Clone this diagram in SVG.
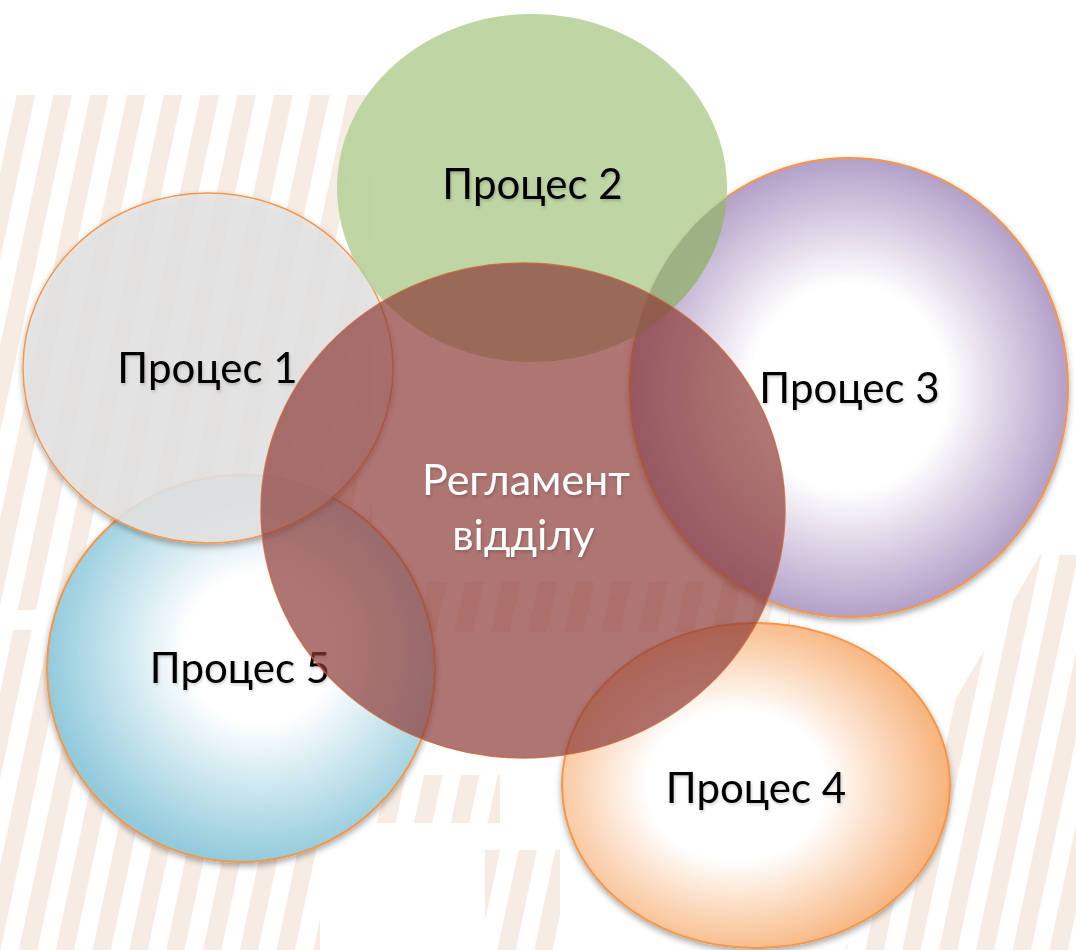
<svg xmlns="http://www.w3.org/2000/svg" width="1076" height="950" viewBox="0 0 1076 950">
  <style>
    .label { font-family: Lato, "Liberation Sans", "Noto Sans", sans-serif; font-size: 42px; text-anchor: middle; }
    .center-label { font-size: 43px; }
    .dark { fill: #000000; }
    .light { fill: #ffffff; }
    .rim { stroke: #f79646; stroke-width: 2; }
    .stripe-area { fill: url(#stripes); opacity: 0.6; }
  </style>
  <defs>
    <pattern id="stripes" width="36" height="40" patternUnits="userSpaceOnUse" patternTransform="rotate(12)">
      <rect x="0" y="0" width="18" height="40" fill="#f2e0d2"/>
    </pattern>
    <radialGradient id="gradPurple" cx="0.5" cy="0.5" r="0.5">
      <stop offset="0" stop-color="#ffffff"/>
      <stop offset="0.45" stop-color="#ffffff"/>
      <stop offset="1" stop-color="#b3a0c8"/>
    </radialGradient>
    <radialGradient id="gradOrange" cx="0.45" cy="0.5" r="0.55">
      <stop offset="0" stop-color="#ffffff"/>
      <stop offset="0.42" stop-color="#ffffff"/>
      <stop offset="1" stop-color="#f7b27a"/>
    </radialGradient>
    <radialGradient id="gradBlue" cx="0.55" cy="0.45" r="0.55">
      <stop offset="0" stop-color="#ffffff"/>
      <stop offset="0.35" stop-color="#ffffff"/>
      <stop offset="1" stop-color="#93cbdc"/>
    </radialGradient>
    <filter id="shadow" x="-10%" y="-10%" width="120%" height="125%">
      <feDropShadow dx="0" dy="3" stdDeviation="3" flood-color="#000000" flood-opacity="0.35"/>
    </filter>
    <filter id="textShadow" x="-10%" y="-20%" width="120%" height="150%">
      <feDropShadow dx="1" dy="2" stdDeviation="1.5" flood-color="#000000" flood-opacity="0.18"/>
    </filter>
    <clipPath id="greenClip">
      <ellipse cx="532" cy="188" rx="195" ry="174"/>
    </clipPath>
  </defs>

  <!-- page background with faint diagonal stripe bands -->
  <rect width="1076" height="950" fill="#ffffff"/>
  <g id="background">
    <rect class="stripe-area" x="0" y="95" width="372" height="515"/>
    <rect class="stripe-area" x="400" y="582" width="390" height="50"/>
    <path class="stripe-area" d="M0 630 H300 V775 H500 V823 H320 V950 H0 Z"/>
    <rect class="stripe-area" x="485" y="850" width="75" height="100"/>
    <path class="stripe-area" d="M845 950 H1076 V555 H1040 L955 700 Z"/>
  </g>

  <g id="process3">
    <ellipse class="rim" cx="849" cy="387.5" rx="219" ry="229.5" fill="url(#gradPurple)" filter="url(#shadow)"/>
    <text class="label dark" x="849.5" y="403" filter="url(#textShadow)">Процес 3</text>
  </g>

  <g id="process4">
    <ellipse class="rim" cx="756" cy="785.5" rx="194" ry="162.5" fill="url(#gradOrange)" filter="url(#shadow)"/>
    <text class="label dark" x="756" y="803" filter="url(#textShadow)">Процес 4</text>
  </g>

  <g id="process5">
    <ellipse class="rim" cx="241" cy="668.5" rx="194" ry="193.5" fill="url(#gradBlue)" filter="url(#shadow)"/>
    <text class="label dark" x="240" y="683" filter="url(#textShadow)">Процес 5</text>
  </g>

  <g id="process1">
    <ellipse cx="208" cy="368" rx="185" ry="175" fill="#e5e5e5" fill-opacity="0.85" stroke="#f79646" stroke-width="1.5" filter="url(#shadow)"/>
    <text class="label dark" x="207.5" y="383" filter="url(#textShadow)">Процес 1</text>
  </g>

  <g id="process2">
    <ellipse cx="532" cy="188" rx="195" ry="174" fill="#b8d39c" fill-opacity="0.92"/>
    <!-- darker lens where the green disc covers the purple one -->
    <ellipse cx="849" cy="387.5" rx="219" ry="229.5" fill="#3a4a20" fill-opacity="0.22" clip-path="url(#greenClip)"/>
    <text class="label dark" x="532.5" y="199" filter="url(#textShadow)">Процес 2</text>
  </g>

  <g id="regulation">
    <ellipse cx="523" cy="510.5" rx="262" ry="247.5" fill="#8b3a36" fill-opacity="0.7" stroke="#c8643c" stroke-width="1.5" stroke-opacity="0.8"/>
    <text class="label center-label light" x="526" y="495" filter="url(#textShadow)">Регламент</text>
    <text class="label center-label light" x="523.5" y="550" filter="url(#textShadow)">відділу</text>
  </g>

  <g id="connectors"/>
</svg>
